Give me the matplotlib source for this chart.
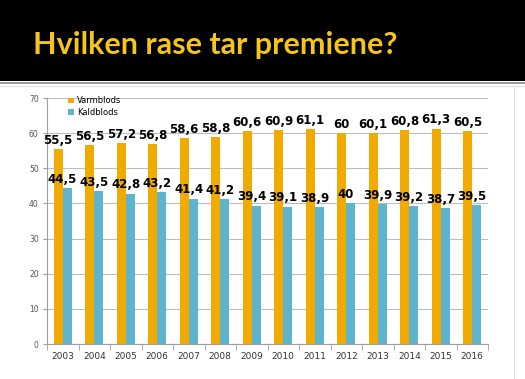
import matplotlib
matplotlib.use("Agg")
import matplotlib.pyplot as plt
import numpy as np

years = ["2003", "2004", "2005", "2006", "2007", "2008", "2009",
         "2010", "2011", "2012", "2013", "2014", "2015", "2016"]
varmblods = [55.5, 56.5, 57.2, 56.8, 58.6, 58.8, 60.6,
             60.9, 61.1, 60, 60.1, 60.8, 61.3, 60.5]
kaldblods = [44.5, 43.5, 42.8, 43.2, 41.4, 41.2, 39.4,
             39.1, 38.9, 40, 39.9, 39.2, 38.7, 39.5]
labels_v = ["55,5", "56,5", "57,2", "56,8", "58,6", "58,8", "60,6",
            "60,9", "61,1", "60", "60,1", "60,8", "61,3", "60,5"]
labels_k = ["44,5", "43,5", "42,8", "43,2", "41,4", "41,2", "39,4",
            "39,1", "38,9", "40", "39,9", "39,2", "38,7", "39,5"]

ORANGE = "#F0AA00"
BLUE = "#5DB4CC"
W, H = 525, 379

fig = plt.figure(figsize=(W / 100, H / 100), dpi=100)
fig.patch.set_facecolor("white")

# header band
hdr = fig.add_axes([0, 1 - 81 / H, 1, 81 / H])
hdr.set_facecolor("black")
hdr.set_xticks([]); hdr.set_yticks([])
for sp in hdr.spines.values():
    sp.set_visible(False)
hdr.text(33 / W, 0.45, "Hvilken rase tar premiene?", transform=hdr.transAxes,
         fontsize=22, color="#F5C518", fontweight="bold", family="Lato",
         ha="left", va="center")
fig.add_artist(plt.Line2D([0, 1], [1 - 82.5 / H, 1 - 82.5 / H], color="#9A9A9A", lw=1.5))
fig.add_artist(plt.Line2D([0, 1], [1 - 86 / H, 1 - 86 / H], color="#DDDDDD", lw=0.8))
fig.add_artist(plt.Line2D([514 / W, 514 / W], [0, 1 - 86 / H], color="#E0E0E0", lw=0.8))

# chart area
left, right, top, bottom = 47, 488, 98, 344
ax = fig.add_axes([left / W, 1 - bottom / H, (right - left) / W, (bottom - top) / H])
x = np.arange(len(years))
bw = 0.29
ax.bar(x - bw / 2, varmblods, bw, color=ORANGE, label="Varmblods", zorder=3)
ax.bar(x + bw / 2, kaldblods, bw, color=BLUE, label="Kaldblods", zorder=3)

for i in range(len(years)):
    ax.text(x[i] - bw / 2, varmblods[i] + 0.6, labels_v[i], ha="center", va="bottom",
            fontsize=8.5, fontweight="bold", color="black", zorder=4)
    ax.text(x[i] + bw / 2 - 0.15, kaldblods[i] + 0.6, labels_k[i], ha="center", va="bottom",
            fontsize=8.5, fontweight="bold", color="black", zorder=4)

ax.set_xlim(-0.5, len(years) - 0.5)
ax.set_ylim(0, 70)
ax.set_yticks(range(0, 71, 10))
ax.yaxis.grid(True, color="#BDBDBD", lw=0.8, zorder=0)
ax.set_axisbelow(True)
ax.set_xticks(x)
ax.set_xticklabels(years)
ax.set_xticks(np.arange(-0.5, len(years), 1), minor=True)
ax.tick_params(axis="x", which="major", length=0, labelsize=6.5, colors="#333333", pad=6)
ax.tick_params(axis="x", which="minor", length=4, color="#9E9E9E")
ax.tick_params(axis="y", length=3, labelsize=5.5, colors="#555555", pad=3, color="#9E9E9E")
for s in ["top", "right"]:
    ax.spines[s].set_visible(False)
ax.spines["left"].set_color("#9E9E9E")
ax.spines["bottom"].set_color("#9E9E9E")

ax.legend(loc="upper left", bbox_to_anchor=(0.035, 1.03), frameon=False, fontsize=6,
          handlelength=0.7, handleheight=0.7, handletextpad=0.4, labelspacing=0.3,
          borderpad=0.2)

fig.savefig("out.png", dpi=100, facecolor="white")
